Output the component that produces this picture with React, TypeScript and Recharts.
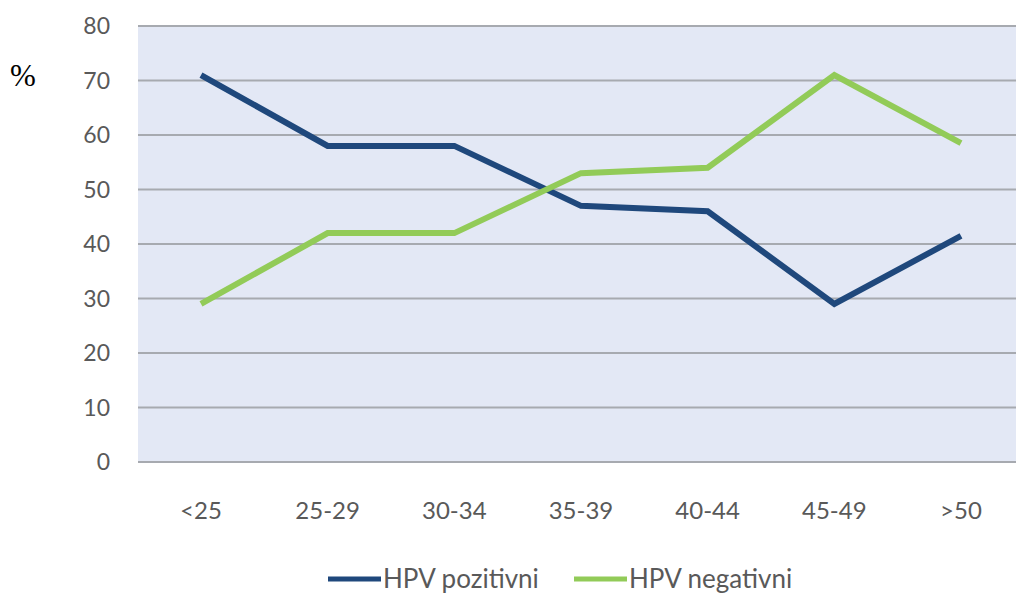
import { LineChart, Line, XAxis, YAxis, CartesianGrid } from "recharts";

const ageGroups = ["<25", "25-29", "30-34", "35-39", "40-44", "45-49", ">50"];
const hpvPositive = [71, 58, 58, 47, 46, 29, 41.5];
const hpvNegative = [29, 42, 42, 53, 54, 71, 58.5];
const yTicks = [0, 10, 20, 30, 40, 50, 60, 70, 80];

const data = ageGroups.map((age, i) => ({
  age,
  positive: hpvPositive[i],
  negative: hpvNegative[i],
}));

const BLUE = "#1F487C";
const GREEN = "#92CB58";
const TEXT = "#595959";
const FONT = "Lato, 'Open Sans', sans-serif";

const legendItems = [
  { label: "HPV pozitivni", color: BLUE, x: 328 },
  { label: "HPV negativni", color: GREEN, x: 574 },
];

function ChartLegend() {
  return (
    <svg width={1016} height={40} style={{ position: "absolute", left: 0, top: 560 }}>
      {legendItems.map((item) => (
        <g key={item.label}>
          <line x1={item.x} x2={item.x + 53} y1={19} y2={19} stroke={item.color} strokeWidth={5} />
          <text x={item.x + 55} y={28} fill={TEXT} fontSize={26} fontFamily={FONT}>
            {item.label}
          </text>
        </g>
      ))}
    </svg>
  );
}

export default function App() {
  return (
    <div style={{ position: "absolute", left: 0, top: 0, width: 1016, height: 599, overflow: "hidden", background: "#fff" }}>
      <div style={{ position: "absolute", left: 10, top: 58, fontFamily: "'Liberation Serif', serif", fontSize: 31, color: "#000" }}>
        %
      </div>
      <LineChart width={1024} height={599} data={data} margin={{ top: 26, right: 0, bottom: 0, left: 0 }}>
        <CartesianGrid vertical={false} fill="#E3E8F5" stroke="#A7AAB0" strokeWidth={2} />
        <XAxis
          dataKey="age"
          axisLine={false}
          tickLine={false}
          height={137}
          tickMargin={34}
          padding={{ left: 63, right: 63 }}
          tick={{ fill: TEXT, fontSize: 24, fontFamily: FONT }}
        />
        <YAxis
          domain={[0, 80]}
          ticks={yTicks}
          width={138}
          axisLine={false}
          tickLine={false}
          tickMargin={22}
          tick={{ fill: TEXT, fontSize: 23, fontFamily: FONT }}
        />
        <Line
          type="linear"
          dataKey="positive"
          stroke={BLUE}
          strokeWidth={6}
          dot={false}
          isAnimationActive={false}
        />
        <Line
          type="linear"
          dataKey="negative"
          stroke={GREEN}
          strokeWidth={6}
          dot={false}
          isAnimationActive={false}
        />
      </LineChart>
      <ChartLegend />
    </div>
  );
}
